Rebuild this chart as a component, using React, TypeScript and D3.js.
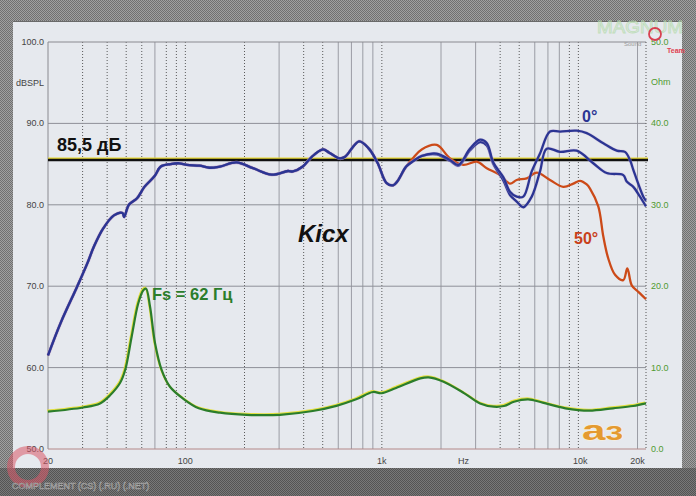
import React, { useEffect, useRef } from 'react';
import * as d3 from 'd3';

// shared part of the SPL curves (Hz / dB)
const BASE_FREQ = [20, 23.2, 28.2, 31.7, 34.3, 38.2, 43.3, 47.9, 48.8, 51.6, 56.8, 61.9, 69.6, 75, 84, 93, 102, 118, 133, 150, 182, 221, 275, 333, 353, 396, 440, 502, 540, 610, 650, 766, 859, 953, 1054, 1140, 1200, 1330];
const BASE_SPL = [61.5, 65.5, 70.0, 72.8, 74.9, 77.1, 78.7, 79.0, 78.5, 80.0, 80.8, 82.2, 83.5, 84.7, 85.0, 85.1, 84.9, 84.8, 84.55, 84.7, 85.2, 84.5, 83.7, 84.15, 84.1, 84.7, 85.9, 86.8, 86.4, 85.7, 85.9, 87.8, 86.9, 85.1, 82.7, 82.4, 82.9, 84.7];

// 0 deg tail
const ZERO_FREQ = [1450, 1595, 1902, 2222, 2450, 2810, 3158, 3418, 3692, 4150, 4488, 4856, 5246, 5790, 6380, 7170, 8070, 9810, 11030, 13400, 15680, 17270, 18310, 19040, 21410, 22090];
const ZERO_SPL = [85.4, 86.0, 86.3, 85.5, 84.9, 86.9, 88.0, 87.6, 85.2, 83.4, 81.6, 81.0, 81.0, 84.1, 86.3, 89.0, 89.0, 89.1, 88.8, 87.55, 86.65, 86.5, 85.5, 84.3, 81.0, 80.5];

// second blue curve tail
const MID_FREQ = [1450, 1595, 1902, 2222, 2450, 2810, 3158, 3418, 3692, 4150, 4488, 4856, 5246, 5790, 6380, 6900, 8070, 9810, 11910, 13940, 16930, 17620, 19040, 20590, 22090];
const MID_SPL = [85.4, 86.0, 86.2, 85.4, 84.8, 86.7, 87.7, 87.3, 85.0, 83.0, 81.2, 80.4, 79.7, 81.0, 84.1, 86.9, 86.5, 86.65, 85.1, 83.9, 83.65, 82.85, 82.2, 81.0, 79.8];

// 50 deg tail
const OFF_FREQ = [1450, 1595, 1902, 2222, 2598, 3040, 3418, 3994, 4488, 4856, 5460, 6138, 7170, 8384, 9428, 10196, 11030, 11460, 12630, 13400, 14200, 15370, 16930, 17750, 18690, 20190, 22090];
const OFF_SPL = [85.8, 86.8, 87.35, 85.7, 84.9, 85.3, 84.5, 83.65, 82.6, 83.05, 83.25, 83.95, 83.05, 82.2, 82.6, 82.95, 82.5, 82.0, 79.8, 76.1, 73.4, 71.4, 70.75, 72.2, 70.1, 69.3, 68.4];

// impedance (Hz / Ohm)
const IMP_FREQ = [20, 30.2, 36.8, 41.4, 46.5, 49.4, 53.3, 57.6, 61.1, 63.1, 66.1, 70.1, 75.8, 83.5, 97.3, 117, 150, 205, 303, 445, 587, 740, 901, 996, 1182, 1570, 1730, 2060, 2630, 3160, 3710, 4180, 4700, 5550, 6580, 8590, 11350, 15000, 19000, 22090];
const IMP_OHM = [4.6, 5.1, 5.6, 6.6, 8.1, 9.7, 13.8, 17.9, 19.5, 19.7, 17.5, 13.0, 9.7, 7.65, 6.2, 5.0, 4.46, 4.2, 4.2, 4.67, 5.3, 6.1, 7.0, 6.85, 7.5, 8.67, 8.8, 8.27, 6.84, 5.6, 5.2, 5.28, 5.8, 6.1, 5.69, 5.0, 4.71, 5.0, 5.28, 5.6];

const REF_LEVEL = 85.5;
const SPL_TICKS = [100, 90, 80, 70, 60, 50];
const OHM_TICKS = [50, 40, 30, 20, 10, 0];
const X_LABELS: [number, string][] = [[20, '20'], [100, '100'], [1000, '1k'], [2600, 'Hz'], [10000, '10k'], [20000, '20k']];
const GRID_FREQS = [30, 40, 50, 60, 70, 80, 90, 100, 200, 300, 400, 500, 600, 700, 800, 900, 1000, 2000, 3000, 4000, 5000, 6000, 7000, 8000, 9000, 10000, 20000];
const SOLID_GRID = [70, 300, 600, 700, 800, 900, 2000, 3000, 6000, 7000, 8000, 20000];

export default function App() {
  const svgRef = useRef<SVGSVGElement>(null);

  useEffect(() => {
    if (!svgRef.current) return;
    const W = 696, H = 496;
    const svg = d3.select(svgRef.current).attr('width', W).attr('height', H);
    svg.selectAll('*').remove();

    const x = d3.scaleLog().domain([20, 22090]).range([48, 646]);
    const y = d3.scaleLinear().domain([50, 100]).range([449, 42]);
    const yo = d3.scaleLinear().domain([0, 50]).range([449, 42]);
    const font = 'Liberation Sans, Arial, sans-serif';

    const defs = svg.append('defs');
    const pat = (id: string, a: string, b: string) => {
      const p = defs.append('pattern').attr('id', id).attr('width', 2).attr('height', 2).attr('patternUnits', 'userSpaceOnUse');
      p.append('rect').attr('width', 2).attr('height', 2).attr('fill', a);
      p.append('rect').attr('width', 1).attr('height', 1).attr('fill', b);
      p.append('rect').attr('x', 1).attr('y', 1).attr('width', 1).attr('height', 1).attr('fill', b);
    };
    pat('outer', '#a0a0a0', '#707070');
    pat('strip', '#787878', '#545454');

    svg.append('rect').attr('width', W).attr('height', H).attr('fill', 'url(#outer)');
    svg.append('rect').attr('y', 468).attr('width', W).attr('height', 28).attr('fill', 'url(#strip)');
    svg.append('rect').attr('x', 13).attr('y', 21).attr('width', 669).attr('height', 447).attr('fill', '#e6e9ee');
    svg.append('line').attr('x1', 13).attr('x2', 682).attr('y1', 21.5).attr('y2', 21.5).attr('stroke', '#6a6a6a');

    // grid
    const g = svg.append('g');
    GRID_FREQS.forEach(f => {
      const solid = SOLID_GRID.includes(f);
      g.append('line')
        .attr('x1', x(f)).attr('x2', x(f)).attr('y1', 42).attr('y2', 449)
        .attr('stroke', solid ? '#9a9ca4' : '#4a4a4a')
        .attr('stroke-width', solid ? 1 : 0.9)
        .attr('stroke-dasharray', solid ? null : '1,2');
    });
    [60, 70, 80, 90].forEach(v => {
      g.append('line').attr('x1', 48).attr('x2', 646).attr('y1', y(v)).attr('y2', y(v))
        .attr('stroke', '#8e9098').attr('stroke-width', 1);
    });
    g.append('line').attr('x1', 48).attr('x2', 646).attr('y1', 42).attr('y2', 42).attr('stroke', '#8a8a90');
    g.append('line').attr('x1', 48).attr('x2', 48).attr('y1', 42).attr('y2', 449).attr('stroke', '#8a8a90');
    g.append('line').attr('x1', 646).attr('x2', 646).attr('y1', 42).attr('y2', 449)
      .attr('stroke', '#555').attr('stroke-dasharray', '1,2');
    g.append('line').attr('x1', 48).attr('x2', 646).attr('y1', 449).attr('y2', 449).attr('stroke', '#b48888');

    // axis labels
    SPL_TICKS.forEach(v => {
      svg.append('text').attr('x', 44).attr('y', y(v) + 3).attr('text-anchor', 'end')
        .attr('font-family', font).attr('font-size', 9).attr('fill', '#444').text(v.toFixed(1));
    });
    svg.append('text').attr('x', 44).attr('y', 86).attr('text-anchor', 'end')
      .attr('font-family', font).attr('font-size', 9).attr('fill', '#444').text('dBSPL');
    OHM_TICKS.forEach(v => {
      svg.append('text').attr('x', 651).attr('y', yo(v) + 3)
        .attr('font-family', font).attr('font-size', 9).attr('fill', '#4f9a30').text(v.toFixed(1));
    });
    svg.append('text').attr('x', 651).attr('y', 85)
      .attr('font-family', font).attr('font-size', 9).attr('fill', '#4f9a30').text('Ohm');
    X_LABELS.forEach(([f, t]) => {
      svg.append('text').attr('x', x(f) + (f === 10000 ? 2 : 0)).attr('y', 464).attr('text-anchor', 'middle')
        .attr('font-family', font).attr('font-size', 9).attr('fill', '#444').text(t);
    });

    // reference level line
    svg.append('line').attr('x1', 48).attr('x2', 648).attr('y1', y(REF_LEVEL) - 1.8).attr('y2', y(REF_LEVEL) - 1.8)
      .attr('stroke', '#e8d830').attr('stroke-width', 1.5);
    svg.append('line').attr('x1', 48).attr('x2', 648).attr('y1', y(REF_LEVEL)).attr('y2', y(REF_LEVEL))
      .attr('stroke', '#111').attr('stroke-width', 2.4);

    const splLine = d3.line<[number, number]>()
      .x(d => x(d[0])).y(d => y(d[1])).curve(d3.curveCatmullRom.alpha(0.5));
    const ohmLine = d3.line<[number, number]>()
      .x(d => x(d[0])).y(d => yo(d[1])).curve(d3.curveCatmullRom.alpha(0.5));
    const zip = (a: number[], b: number[]) => a.map((v, i) => [v, b[i]] as [number, number]);

    // impedance
    const imp = zip(IMP_FREQ, IMP_OHM);
    svg.append('path').datum(imp).attr('d', ohmLine).attr('fill', 'none')
      .attr('stroke', '#e4e040').attr('stroke-width', 2).attr('transform', 'translate(-0.8,-1)');
    svg.append('path').datum(imp).attr('d', ohmLine).attr('fill', 'none')
      .attr('stroke', '#2b7d2b').attr('stroke-width', 2.2);

    const off = zip(BASE_FREQ.concat(OFF_FREQ), BASE_SPL.concat(OFF_SPL));
    const mid = zip(BASE_FREQ.concat(MID_FREQ), BASE_SPL.concat(MID_SPL));
    const zero = zip(BASE_FREQ.concat(ZERO_FREQ), BASE_SPL.concat(ZERO_SPL));

    svg.append('path').datum(off).attr('d', splLine).attr('fill', 'none')
      .attr('stroke', '#cc4a18').attr('stroke-width', 2.3);
    [mid, zero].forEach(d => {
      svg.append('path').datum(d).attr('d', splLine).attr('fill', 'none')
        .attr('stroke', '#c8b0d8').attr('stroke-width', 3.4).attr('opacity', 0.4);
      svg.append('path').datum(d).attr('d', splLine).attr('fill', 'none')
        .attr('stroke', '#2b3593').attr('stroke-width', 2.3);
    });

    // annotations
    svg.append('text').attr('x', 57).attr('y', 151).attr('font-family', font).attr('font-weight', 'bold')
      .attr('font-size', 18).attr('fill', '#111').text('85,5 дБ');
    svg.append('text').attr('x', 298).attr('y', 242).attr('font-family', font).attr('font-weight', 'bold')
      .attr('font-style', 'italic').attr('font-size', 24).attr('fill', '#111').text('Kicx');
    svg.append('text').attr('x', 582).attr('y', 122).attr('font-family', font).attr('font-weight', 'bold')
      .attr('font-size', 16).attr('fill', '#2b3593').text('0°');
    svg.append('text').attr('x', 574).attr('y', 244).attr('font-family', font).attr('font-weight', 'bold')
      .attr('font-size', 16).attr('fill', '#c8401a').text('50°');
    svg.append('text').attr('x', 152).attr('y', 300).attr('font-family', font).attr('font-weight', 'bold')
      .attr('font-size', 16.5).attr('fill', '#2b7d2b').text('Fs = 62 Гц');

    // a3 logo
    const a3 = svg.append('text').attr('x', 582).attr('y', 440).attr('font-family', font).attr('font-weight', 'bold')
      .attr('fill', '#e49a30').attr('stroke', '#fff3d8').attr('stroke-width', 0.8).attr('paint-order', 'stroke')
      .attr('textLength', 41).attr('lengthAdjust', 'spacingAndGlyphs');
    a3.append('tspan').attr('font-size', 28).text('a');
    a3.append('tspan').attr('font-size', 21).text('3');

    // top-right watermark
    svg.append('text').attr('x', 597).attr('y', 33).attr('font-family', font).attr('font-size', 16)
      .attr('fill', 'none').attr('stroke', '#b8dcb0').attr('stroke-width', 0.8).attr('opacity', 0.8)
      .attr('textLength', 86).attr('lengthAdjust', 'spacingAndGlyphs').text('MAGNUM');
    svg.append('circle').attr('cx', 655).attr('cy', 34).attr('r', 6).attr('fill', 'none')
      .attr('stroke', '#d84050').attr('stroke-width', 1.8);
    svg.append('text').attr('x', 624).attr('y', 46).attr('font-family', font).attr('font-size', 6)
      .attr('fill', '#9a9a9a').text('Sound');
    svg.append('text').attr('x', 667).attr('y', 53).attr('font-family', font).attr('font-size', 7)
      .attr('font-weight', 'bold').attr('fill', '#e04050').text('Team');

    // bottom-left stamp and strip text
    svg.append('circle').attr('cx', 28).attr('cy', 467).attr('r', 17).attr('fill', 'none')
      .attr('stroke', '#d85868').attr('stroke-width', 8).attr('opacity', 0.55);
    svg.append('text').attr('x', 12).attr('y', 489).attr('font-family', font).attr('font-size', 9)
      .attr('fill', '#6a6a6a').attr('stroke', '#a8a8a8').attr('stroke-width', 0.5)
      .text('COMPLEMENT (CS) (.RU) (.NET)');
  }, []);

  return (
    <svg ref={svgRef} style={{ position: 'absolute', left: 0, top: 0, display: 'block' }} />
  );
}
